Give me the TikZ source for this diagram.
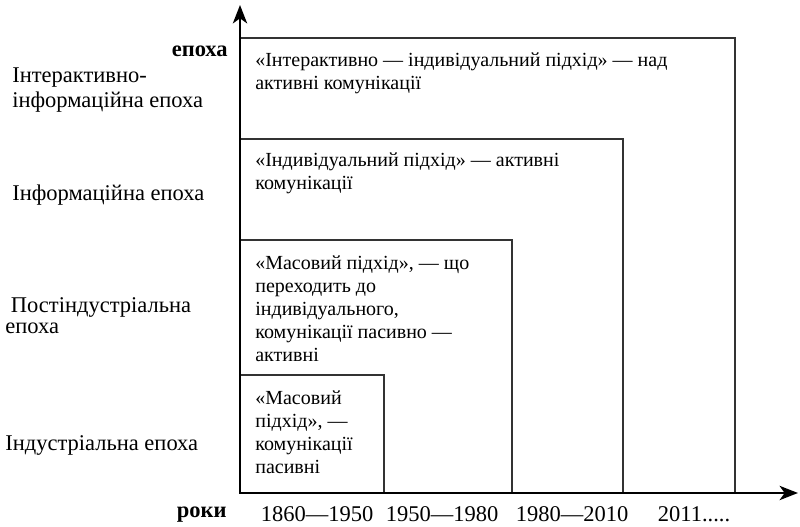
\documentclass[tikz,border=0pt]{standalone}
\usepackage{fontspec}
\setmainfont{Liberation Serif}
\usetikzlibrary{arrows.meta}
\begin{document}
\begin{tikzpicture}[x=0.6pt,y=0.6pt,font=\fontsize{13.5}{15}\selectfont,
    period/.style={draw=black!80,line width=0.8pt},
    axis/.style={line width=1.7pt,line cap=rect,-{Stealth[length=11pt,width=8.5pt,inset=3pt]}},
    boxtext/.style={anchor=north west,align=left,inner sep=0pt,font=\fontsize{12}{13.8}\selectfont},
    eratext/.style={anchor=north west,align=left,inner sep=0pt},
    axistext/.style={anchor=base east,inner sep=0pt,font=\fontsize{13.5}{15}\selectfont\bfseries},
    yeartext/.style={anchor=base,inner sep=0pt}]
    \useasboundingbox (0,0) rectangle (800,527);
    \coordinate (o) at (240,34);
    \coordinate (ytip) at (240,522);
    \coordinate (xtip) at (798,34);
    \draw[period] (o) rectangle (735,489);
    \draw[period] (o) rectangle (623,388);
    \draw[period] (o) rectangle (512,287);
    \draw[period] (o) rectangle (384,152);
    \draw[axis] (o) -- (ytip);
    \draw[axis] (o) -- (xtip);
    \node[boxtext] (interact) at (255,475) {«Інтерактивно — індивідуальний підхід» — над\\активні комунікації};
    \node[boxtext] (individ) at (255,375) {«Індивідуальний підхід» — активні\\комунікації};
    \node[boxtext] (masstrans) at (255,272) {«Масовий підхід», — що\\переходить до\\індивідуального,\\комунікації пасивно —\\активні};
    \node[boxtext] (mass) at (255,137) {«Масовий\\підхід», —\\комунікації\\пасивні};
    \node[axistext] (epoch) at (228,470) {епоха};
    \node[eratext] (eraInteract) at (12,460) {Інтерактивно-\\інформаційна епоха};
    \node[eratext] (eraInfo) at (12,342) {Інформаційна епоха};
    \node[eratext,font=\fontsize{13.5}{12.8}\selectfont] (eraPost) at (5,230) {\ Постіндустріальна\\епоха};
    \node[eratext] (eraInd) at (5,92) {Індустріальна епоха};
    \node[axistext] (years) at (227,9) {роки};
    \node[yeartext] (y1) at (317,5) {1860—1950};
    \node[yeartext] (y2) at (442,5) {1950—1980};
    \node[yeartext] (y3) at (572,5) {1980—2010};
    \node[yeartext] (y4) at (694,5) {2011.....};
\end{tikzpicture}
\end{document}
